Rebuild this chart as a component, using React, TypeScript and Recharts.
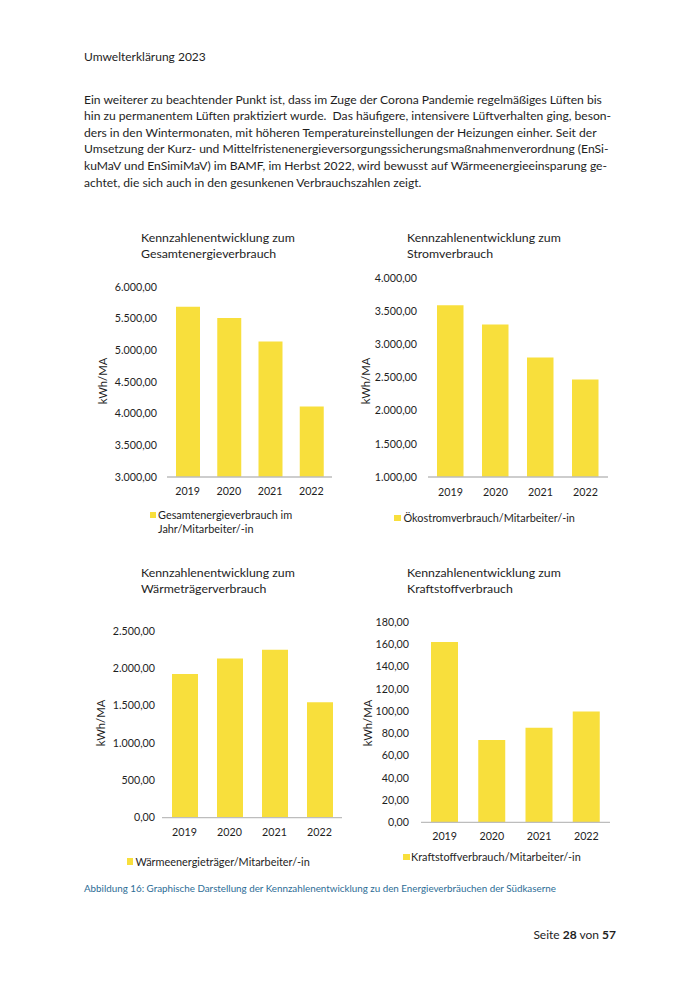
import React from 'react';
import { BarChart, Bar, XAxis, YAxis } from 'recharts';

const years = ['2019', '2020', '2021', '2022'];
const gesamtValues = [5690, 5510, 5140, 4115];
const stromValues = [3590, 3300, 2800, 2470];
const waermeValues = [1925, 2130, 2250, 1545];
const kraftValues = [162, 74, 85, 99.5];

const gesamtTicks = [3000, 3500, 4000, 4500, 5000, 5500, 6000];
const stromTicks = [1000, 1500, 2000, 2500, 3000, 3500, 4000];
const waermeTicks = [0, 500, 1000, 1500, 2000, 2500];
const kraftTicks = [0, 20, 40, 60, 80, 100, 120, 140, 160, 180];

const bodyLines = [
  'Ein weiterer zu beachtender Punkt ist, dass im Zuge der Corona Pandemie regelmäßiges Lüften bis',
  'hin zu permanentem Lüften praktiziert wurde.\u00a0 Das häufigere, intensivere Lüftverhalten ging, beson-',
  'ders in den Wintermonaten, mit höheren Temperatureinstellungen der Heizungen einher. Seit der',
  'Umsetzung der Kurz- und Mittelfristenenergieversorgungssicherungsmaßnahmenverordnung (EnSi-',
  'kuMaV und EnSimiMaV) im BAMF, im Herbst 2022, wird bewusst auf Wärmeenergieeinsparung ge-',
  'achtet, die sich auch in den gesunkenen Verbrauchszahlen zeigt.',
];

const YELLOW = '#F8DF3C';
const FONT = 'Lato, "Noto Sans", sans-serif';
const TEXT = '#1e1e1e';

const fmt = (v: number) => {
  const [i, d] = v.toFixed(2).split('.');
  return i.replace(/\B(?=(\d{3})+(?!\d))/g, '.') + ',' + d;
};

type Rect = { left: number; right: number; top: number; bottom: number };

function Panel(props: {
  values: number[];
  ticks: number[];
  plot: Rect;
  barSize: number;
  yTickMargin: number;
  xTickMargin: number;
}) {
  const { values, ticks, plot, barSize, yTickMargin, xTickMargin } = props;
  const data = years.map((y, i) => ({ year: y, value: values[i] }));
  const padL = 80;
  const padT = 12;
  const padR = 12;
  const xH = 30;
  const w = plot.right - plot.left + padL + padR;
  const h = plot.bottom - plot.top + padT + xH;
  return (
    <div style={{ position: 'absolute', left: plot.left - padL, top: plot.top - padT }}>
      <BarChart width={w} height={h} data={data} margin={{ top: padT, right: padR, left: 0, bottom: 0 }}>
        <XAxis
          dataKey="year"
          height={xH}
          tickLine={false}
          tickSize={0}
          tickMargin={xTickMargin}
          axisLine={{ stroke: '#bdbdbd', strokeWidth: 1.3 }}
          tick={{ fontSize: 10.7, fill: TEXT, fontFamily: FONT }}
          interval={0}
        />
        <YAxis
          width={padL}
          domain={[ticks[0], ticks[ticks.length - 1]]}
          ticks={ticks}
          interval={0}
          tickLine={false}
          axisLine={false}
          tickSize={0}
          tickMargin={yTickMargin}
          tickFormatter={fmt}
          tick={{ fontSize: 10.7, fill: TEXT, fontFamily: FONT }}
        />
        <Bar dataKey="value" fill={YELLOW} barSize={barSize} isAnimationActive={false} />
      </BarChart>
    </div>
  );
}

const abs = (left: number, top: number, extra: React.CSSProperties = {}): React.CSSProperties => ({
  position: 'absolute',
  left,
  top,
  whiteSpace: 'nowrap',
  ...extra,
});

function Title({ left, top, lines }: { left: number; top: number; lines: string[] }) {
  return (
    <div style={abs(left, top, { fontSize: 12.3, lineHeight: '16px', color: TEXT })}>
      {lines.map((l) => (
        <div key={l}>{l}</div>
      ))}
    </div>
  );
}

function YLabel({ cx, cy }: { cx: number; cy: number }) {
  return (
    <div
      style={abs(cx - 30, cy - 8, {
        width: 60,
        height: 16,
        lineHeight: '16px',
        textAlign: 'center',
        fontSize: 11.3,
        color: TEXT,
        transform: 'rotate(-90deg)',
      })}
    >
      kWh/MA
    </div>
  );
}

function LegendItem({ sqLeft, cy, textLeft, lines }: { sqLeft: number; cy: number; textLeft: number; lines: string[] }) {
  return (
    <>
      <div style={abs(sqLeft, cy - 3.5, { width: 6.5, height: 6.5, background: YELLOW })} />
      <div style={abs(textLeft, cy - 7, { fontSize: 10.9, lineHeight: '13.5px', color: TEXT })}>
        {lines.map((l) => (
          <div key={l}>{l}</div>
        ))}
      </div>
    </>
  );
}

export default function App() {
  return (
    <div
      style={{
        position: 'absolute',
        left: 0,
        top: 0,
        width: 700,
        height: 990,
        background: '#fff',
        fontFamily: FONT,
        color: TEXT,
        overflow: 'hidden',
      }}
    >
      <div style={abs(84, 49, { fontSize: 12, lineHeight: '16px' })}>Umwelterklärung 2023</div>
      <div style={abs(84, 91.7, { fontSize: 12.1, lineHeight: '16.6px' })}>
        {bodyLines.map((l) => (
          <div key={l}>{l}</div>
        ))}
      </div>

      <Title left={141} top={230} lines={['Kennzahlenentwicklung zum', 'Gesamtenergieverbrauch']} />
      <Title left={407} top={230} lines={['Kennzahlenentwicklung zum', 'Stromverbrauch']} />
      <Title left={141} top={564.5} lines={['Kennzahlenentwicklung zum', 'Wärmeträgerverbrauch']} />
      <Title left={407} top={564.5} lines={['Kennzahlenentwicklung zum', 'Kraftstoffverbrauch']} />

      <Panel values={gesamtValues} ticks={gesamtTicks} plot={{ left: 167, right: 332, top: 286.7, bottom: 476.7 }} barSize={24} yTickMargin={10} xTickMargin={10.5} />
      <Panel values={stromValues} ticks={stromTicks} plot={{ left: 428, right: 608, top: 278.3, bottom: 477.3 }} barSize={26.5} yTickMargin={11} xTickMargin={11} />
      <Panel values={waermeValues} ticks={waermeTicks} plot={{ left: 162, right: 342, top: 630.7, bottom: 817.3 }} barSize={26} yTickMargin={7} xTickMargin={11} />
      <Panel values={kraftValues} ticks={kraftTicks} plot={{ left: 421, right: 610, top: 622.3, bottom: 822.7 }} barSize={27} yTickMargin={12} xTickMargin={10.5} />

      <YLabel cx={103} cy={381} />
      <YLabel cx={366} cy={381} />
      <YLabel cx={100.5} cy={723} />
      <YLabel cx={368} cy={723} />

      <LegendItem sqLeft={149.5} cy={515} textLeft={158} lines={['Gesamtenergieverbrauch im', 'Jahr/Mitarbeiter/-in']} />
      <LegendItem sqLeft={394} cy={518} textLeft={403.5} lines={['Ökostromverbrauch/Mitarbeiter/-in']} />
      <LegendItem sqLeft={126.5} cy={861.5} textLeft={135.5} lines={['Wärmeenergieträger/Mitarbeiter/-in']} />
      <LegendItem sqLeft={403} cy={857} textLeft={411} lines={['Kraftstoffverbrauch/Mitarbeiter/-in']} />

      <div style={abs(84, 881.5, { fontSize: 9.8, lineHeight: '13px', color: '#2c6d96' })}>
        Abbildung 16: Graphische Darstellung der Kennzahlenentwicklung zu den Energieverbräuchen der Südkaserne
      </div>
      <div style={abs(500, 927, { width: 116, textAlign: 'right', fontSize: 12, lineHeight: '16px' })}>
        Seite <b>28</b> von <b>57</b>
      </div>
    </div>
  );
}
